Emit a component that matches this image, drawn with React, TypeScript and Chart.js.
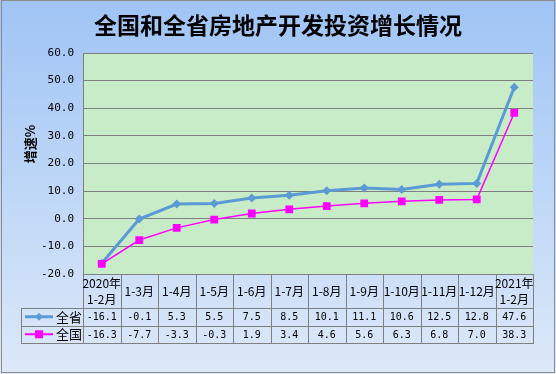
import React, { useEffect, useRef } from "react";
import { Chart, registerables } from "chart.js";

Chart.register(...registerables);

const categories = ["2020年\n1-2月", "1-3月", "1-4月", "1-5月", "1-6月", "1-7月", "1-8月", "1-9月", "1-10月", "1-11月", "1-12月", "2021年\n1-2月"];
const provinceName = "全省";
const nationName = "全国";
const provinceValues = [-16.1, -0.1, 5.3, 5.5, 7.5, 8.5, 10.1, 11.1, 10.6, 12.5, 12.8, 47.6];
const nationValues = [-16.3, -7.7, -3.3, -0.3, 1.9, 3.4, 4.6, 5.6, 6.3, 6.8, 7.0, 38.3];
const titleText = "全国和全省房地产开发投资增长情况";
const yTitle = "增速%";
const yMin = -20;
const yMax = 60;
const yStep = 10;

const BLUE = "#5b9bd5";
const MAGENTA = "#ff00ff";
const GRID = "#808080";
const CJK = "'Noto Sans CJK SC', sans-serif";
const MONO = "'DejaVu Sans Mono', monospace";

const decorPlugin = {
  id: "decor",
  beforeDraw(chart: any) {
    const { ctx, width, height, chartArea } = chart;
    ctx.save();
    const g = ctx.createLinearGradient(0, 0, 0, height);
    g.addColorStop(0, "#9fc4f5");
    g.addColorStop(1, "#dde9f9");
    ctx.fillStyle = g;
    ctx.fillRect(0, 0, width, height);
    ctx.fillStyle = "#c8ecc8";
    ctx.fillRect(chartArea.left, chartArea.top, chartArea.right - chartArea.left, chartArea.bottom - chartArea.top);
    ctx.restore();
  },
  afterDraw(chart: any) {
    const { ctx, width, height, chartArea } = chart;
    const xs = chart.scales.x;
    ctx.save();
    // outer border
    ctx.strokeStyle = "#8c8c8c";
    ctx.lineWidth = 1;
    ctx.strokeRect(1.5, 0.5, width - 3, height - 2);

    // title
    ctx.fillStyle = "#000";
    ctx.font = `bold 23px ${CJK}`;
    ctx.textAlign = "center";
    ctx.textBaseline = "middle";
    ctx.fillText(titleText, 278, 25);

    // y title
    ctx.save();
    ctx.translate(30, 144);
    ctx.rotate(-Math.PI / 2);
    ctx.font = `bold 13px ${CJK}`;
    ctx.fillText(yTitle, 0, 0);
    ctx.restore();

    // table
    const right = chartArea.right;
    const top = chartArea.bottom;
    const hdrBottom = top + 34;
    const r1Bottom = hdrBottom + 17.5;
    const r2Bottom = r1Bottom + 17.5;
    const legLeft = 21;
    const n = categories.length;
    const colW = xs.getPixelForValue(1) - xs.getPixelForValue(0);

    ctx.strokeStyle = GRID;
    ctx.lineWidth = 1;
    ctx.beginPath();
    const hl = (y: number, x0: number, x1: number) => {
      const yy = Math.round(y) + 0.5;
      ctx.moveTo(x0, yy);
      ctx.lineTo(x1, yy);
    };
    const vl = (x: number, y0: number, y1: number) => {
      const xx = Math.round(x) + 0.5;
      ctx.moveTo(xx, y0);
      ctx.lineTo(xx, y1);
    };
    hl(hdrBottom, legLeft, right + 0.5);
    hl(r1Bottom, legLeft, right + 0.5);
    hl(r2Bottom, legLeft, right + 0.5);
    vl(legLeft, hdrBottom, r2Bottom + 1);
    for (let i = 0; i <= n; i++) {
      const x = xs.getPixelForValue(i) - colW / 2;
      vl(Math.min(x, right - 0.5), top, r2Bottom + 1);
    }
    ctx.stroke();

    ctx.fillStyle = "#000";
    ctx.textAlign = "center";
    ctx.textBaseline = "middle";
    for (let i = 0; i < n; i++) {
      const cx = xs.getPixelForValue(i);
      const lines = categories[i].split("\n");
      ctx.font = `12px ${CJK}`;
      if (lines.length === 1) {
        ctx.fillText(lines[0], cx, (top + hdrBottom) / 2);
      } else {
        ctx.fillText(lines[0], cx, top + 9);
        ctx.fillText(lines[1], cx, top + 25);
      }
      ctx.font = `10px ${MONO}`;
      ctx.fillText(provinceValues[i].toFixed(1), cx, (hdrBottom + r1Bottom) / 2 + 1);
      ctx.fillText(nationValues[i].toFixed(1), cx, (r1Bottom + r2Bottom) / 2 + 1);
    }

    // legend keys
    const keyX0 = 25;
    const keyX1 = 53;
    const keyC = 39;
    const y1 = (hdrBottom + r1Bottom) / 2;
    const y2 = (r1Bottom + r2Bottom) / 2;
    ctx.strokeStyle = BLUE;
    ctx.lineWidth = 3;
    ctx.beginPath();
    ctx.moveTo(keyX0, y1);
    ctx.lineTo(keyX1, y1);
    ctx.stroke();
    ctx.fillStyle = BLUE;
    ctx.beginPath();
    ctx.moveTo(keyC, y1 - 4);
    ctx.lineTo(keyC + 4, y1);
    ctx.lineTo(keyC, y1 + 4);
    ctx.lineTo(keyC - 4, y1);
    ctx.closePath();
    ctx.fill();
    ctx.strokeStyle = MAGENTA;
    ctx.lineWidth = 2;
    ctx.beginPath();
    ctx.moveTo(keyX0, y2);
    ctx.lineTo(keyX1, y2);
    ctx.stroke();
    ctx.fillStyle = MAGENTA;
    ctx.fillRect(keyC - 4, y2 - 4, 8, 8);

    ctx.fillStyle = "#000";
    ctx.font = `13px ${CJK}`;
    ctx.textAlign = "center";
    ctx.fillText(provinceName, 69, y1);
    ctx.fillText(nationName, 69, y2);
    ctx.restore();
  },
};

export default function App() {
  const ref = useRef<HTMLCanvasElement>(null);
  useEffect(() => {
    document.body.style.margin = "0";
    const canvas = ref.current;
    if (!canvas) return;
    const chart = new Chart(canvas, {
      type: "line",
      data: {
        labels: categories.map((c) => c.replace("\n", "")),
        datasets: [
          {
            label: nationName,
            data: nationValues,
            borderColor: MAGENTA,
            backgroundColor: MAGENTA,
            borderWidth: 1.5,
            pointStyle: "rect",
            pointRadius: 5.5,
            pointBorderWidth: 0,
            pointBackgroundColor: MAGENTA,
            order: 0,
            tension: 0,
          },
          {
            label: provinceName,
            data: provinceValues,
            borderColor: BLUE,
            backgroundColor: BLUE,
            borderWidth: 3,
            pointStyle: "rectRot",
            pointRadius: 4.5,
            pointBorderWidth: 0,
            pointBackgroundColor: BLUE,
            order: 1,
            tension: 0,
          },
        ],
      },
      options: {
        animation: false,
        responsive: false,
        maintainAspectRatio: false,
        layout: { padding: { top: 53, right: 23, bottom: 100, left: 0 } },
        plugins: {
          legend: { display: false },
          title: { display: false },
          tooltip: { enabled: false },
        },
        scales: {
          x: {
            type: "category",
            display: false,
            offset: true,
            grid: { display: false },
          },
          y: {
            min: yMin,
            max: yMax,
            afterFit: (s: any) => {
              s.width = 83;
            },
            ticks: {
              stepSize: yStep,
              padding: 9,
              color: "#000",
              font: { family: "'DejaVu Sans Mono', monospace", size: 11 },
              callback: (v: any) => Number(v).toFixed(1),
            },
            grid: { color: GRID, lineWidth: 1, drawTicks: false },
            border: { display: true, color: GRID, width: 1 },
          },
        },
      },
      plugins: [decorPlugin],
    });
    return () => chart.destroy();
  }, []);
  return (
    <div style={{ width: 556, height: 374 }}>
      <canvas ref={ref} width={556} height={374} style={{ display: "block" }} />
    </div>
  );
}
